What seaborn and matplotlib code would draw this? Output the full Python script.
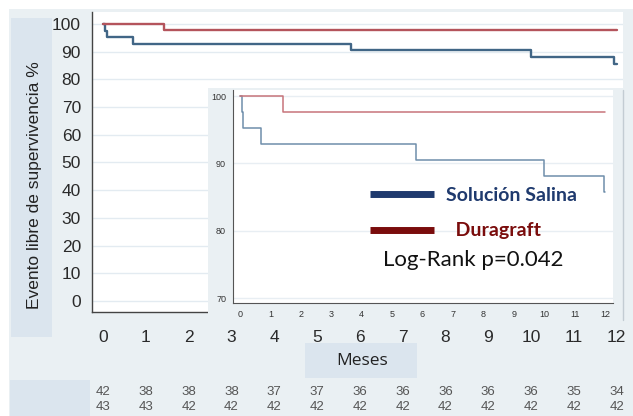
import numpy as np
import pandas as pd
import seaborn as sns
import matplotlib
matplotlib.use("Agg")
import matplotlib.pyplot as plt
from matplotlib.patches import Rectangle
from matplotlib.lines import Line2D
from matplotlib import transforms

# ---------------- data ----------------
groups = ["Solución Salina", "Duragraft"]
sal_months = [0, 0.05, 0.1, 0.7, 5.8, 10.0, 11.95, 12.0]
sal_surv = [100, 97.6, 95.2, 92.9, 90.5, 88.1, 85.7, 85.7]
dura_months = [0, 1.42, 12.0]
dura_surv = [100, 97.7, 97.7]
month_ticks = list(range(13))
main_yticks = list(range(0, 101, 10))
inset_yticks = [70, 80, 90, 100]
risk_sal = [42, 38, 38, 38, 37, 37, 36, 36, 36, 36, 36, 35, 34]
risk_dura = [43, 43, 42, 42, 42, 42, 42, 42, 42, 42, 42, 42, 42]
x_label = "Meses"
y_label = "Evento libre de supervivencia %"
logrank = "Log-Rank p=0.042"

df = pd.DataFrame({
    "mes": sal_months + dura_months,
    "surv": sal_surv + dura_surv,
    "grupo": [groups[0]] * len(sal_months) + [groups[1]] * len(dura_months),
})

sns.set_style("white")
plt.rcParams["font.family"] = ["Liberation Sans", "DejaVu Sans"]

W, H = 633, 416
fig = plt.figure(figsize=(W / 100, H / 100), dpi=100, facecolor="white")


def frect(x0, y0, x1, y1, color, z):
    fig.add_artist(Rectangle((x0 / W, 1 - y1 / H), (x1 - x0) / W, (y1 - y0) / H,
                             transform=fig.transFigure, facecolor=color,
                             edgecolor="none", zorder=z))


BG = "#eaf0f3"
BOX = "#dbe5ee"
frect(9, 9, 633, 416, BG, 0.1)
frect(11, 18, 52, 337, BOX, 0.5)
frect(305, 343, 417, 378, BOX, 0.5)
frect(10, 380, 90, 416, BOX, 0.5)

# ---------------- main axes ----------------
ax = fig.add_axes([92 / W, 1 - 312 / H, (623 - 92) / W, (312 - 12) / H])
ax.set_zorder(1)
ax.set_facecolor("white")
main_pal = {groups[0]: "#416686", groups[1]: "#b4545c"}
sns.lineplot(data=df, x="mes", y="surv", hue="grupo", palette=main_pal,
             estimator=None, drawstyle="steps-post", linewidth=1.7,
             legend=False, ax=ax)
ax.set_xlim(-0.26, 12.15)
ax.set_ylim(-4, 104.3)
ax.set_xticks(month_ticks)
ax.set_yticks(main_yticks)
ax.yaxis.grid(True, color="#e3ebf1", linewidth=1)
ax.xaxis.grid(False)
for s in ["top", "right"]:
    ax.spines[s].set_visible(False)
for s in ["left", "bottom"]:
    ax.spines[s].set_color("#444444")
    ax.spines[s].set_linewidth(1)
ax.tick_params(axis="both", direction="out", length=5, width=1, color="#444444",
               labelsize=12.5, labelcolor="#2a2a2a")
ax.tick_params(axis="x", pad=8)
ax.tick_params(axis="y", pad=3)
ax.set_xlabel(x_label, family=["Open Sans", "DejaVu Sans"], fontsize=12.5, color="#222222")
ax.set_ylabel(y_label, fontsize=12.5, color="#222222")
ax.xaxis.label.set_va("center")
ax.yaxis.label.set_va("center")
ax.xaxis.set_label_coords((362 - 92) / 531, (312 - 361) / 300)
ax.yaxis.set_label_coords((35 - 92) / 531, (312 - 185) / 300)

# numbers at risk
bt = transforms.blended_transform_factory(ax.transData, fig.transFigure)
for m, a, b in zip(month_ticks, risk_sal, risk_dura):
    ax.text(m, 1 - 392 / H, str(a), transform=bt, ha="center", va="center",
            fontsize=9.5, color="#555555", clip_on=False)
    ax.text(m, 1 - 407 / H, str(b), transform=bt, ha="center", va="center",
            fontsize=9.5, color="#555555", clip_on=False)

# ---------------- inset ----------------
frect(208, 88, 625, 325, BG, 2)
fig.add_artist(Line2D([623 / W, 623 / W], [1 - 90 / H, 1 - 320 / H],
                      transform=fig.transFigure, color="#c3ccd3", linewidth=1,
                      zorder=2.5))
axi = fig.add_axes([233 / W, 1 - 303 / H, (613 - 233) / W, (303 - 90) / H])
axi.set_zorder(3)
axi.set_facecolor("white")
inset_pal = {groups[0]: "#6f8eab", groups[1]: "#c7747a"}
sns.lineplot(data=df, x="mes", y="surv", hue="grupo", palette=inset_pal,
             estimator=None, drawstyle="steps-post", linewidth=1.1,
             legend=False, ax=axi)
axi.set_xlim(-0.23, 12.26)
axi.set_ylim(69.3, 100.9)
axi.set_xticks(month_ticks)
axi.set_yticks(inset_yticks)
axi.yaxis.grid(True, color="#e8eef3", linewidth=1)
axi.xaxis.grid(False)
for s in ["top", "right"]:
    axi.spines[s].set_visible(False)
for s in ["left", "bottom"]:
    axi.spines[s].set_color("#555555")
    axi.spines[s].set_linewidth(0.8)
axi.tick_params(axis="both", direction="out", length=3, width=0.8, color="#555555",
                labelsize=6.5, labelcolor="#333333", pad=2)
axi.set_xlabel("")
axi.set_ylabel("")

handles = [Line2D([], [], color="#1f3a6e", linewidth=5, solid_capstyle="butt"),
           Line2D([], [], color="#7a0c0c", linewidth=5, solid_capstyle="butt")]
leg = axi.legend(handles, [groups[0], "  " + groups[1]], loc="upper left",
                 bbox_to_anchor=(370 / W, 1 - 187 / H), bbox_transform=fig.transFigure,
                 frameon=False, prop=dict(family="Lato", weight="bold", size=14),
                 handlelength=3.3, handletextpad=0.6, labelspacing=0.95,
                 borderpad=0, borderaxespad=0)
for t, c in zip(leg.get_texts(), ["#1f3a6e", "#7a0c0c"]):
    t.set_color(c)

axi.text(383 / W, 1 - 260 / H, logrank, transform=fig.transFigure,
         family=["Lato", "DejaVu Sans"], fontsize=16, color="#111111",
         ha="left", va="center")

fig.savefig("out.png", dpi=100, facecolor=fig.get_facecolor())
